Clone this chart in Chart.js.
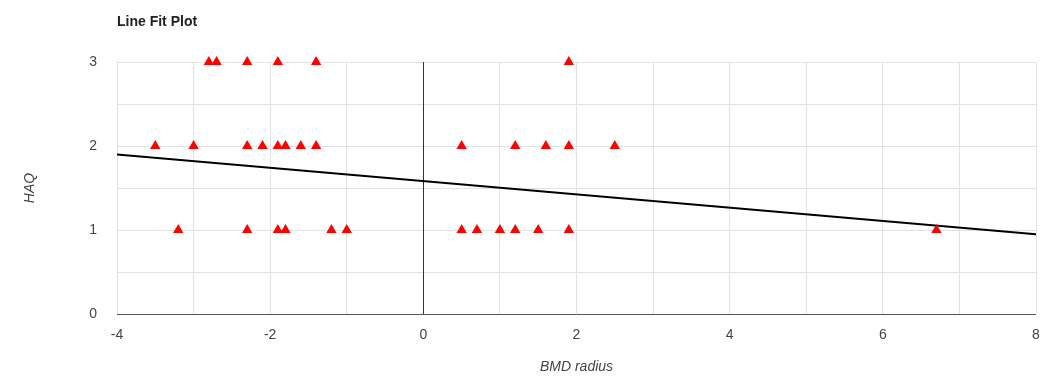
<!DOCTYPE html>
<html>
<head>
<meta charset="utf-8">
<script src="https://cdn.jsdelivr.net/npm/chart.js@4"></script>
<style>
  body { margin: 0; background: #fff; }
  #wrap { width: 1043px; height: 376px; }
</style>
</head>
<body>
<div id="wrap"><canvas id="myChart" width="1043" height="376"></canvas></div>
<script>
  // observed points (BMD radius, HAQ)
  const bmdX = [
    -2.8, -2.7, -2.3, -1.9, -1.4, 1.9,
    -3.5, -3.0, -2.3, -2.1, -1.9, -1.8, -1.6, -1.4, 0.5, 1.2, 1.6, 1.9, 2.5,
    -3.2, -2.3, -1.9, -1.8, -1.2, -1.0, 0.5, 0.7, 1.0, 1.2, 1.5, 1.9, 6.7
  ];
  const haqY = [
    3, 3, 3, 3, 3, 3,
    2, 2, 2, 2, 2, 2, 2, 2, 2, 2, 2, 2, 2,
    1, 1, 1, 1, 1, 1, 1, 1, 1, 1, 1, 1, 1
  ];

  // fitted line end points
  const fitX = [-4, 8];
  const fitY = [1.90, 0.95];

  const xTicks = [-4, -2, 0, 2, 4, 6, 8];
  const yTicks = [0, 1, 2, 3];

  const points = bmdX.map((x, i) => ({ x: x, y: haqY[i] }));
  const fitLine = fitX.map((x, i) => ({ x: x, y: fitY[i] }));

  const titlePlugin = {
    id: 'leftTitle',
    beforeDatasetsDraw(chart) {
      // dark zero line on top of the grid
      const ctx = chart.ctx;
      const x0 = Math.round(chart.scales.x.getPixelForValue(0)) + 0.5;
      ctx.save();
      ctx.strokeStyle = '#333';
      ctx.lineWidth = 1;
      ctx.beginPath();
      ctx.moveTo(x0, chart.chartArea.top);
      ctx.lineTo(x0, chart.chartArea.bottom);
      ctx.stroke();
      ctx.restore();
    },
    afterDraw(chart) {
      const ctx = chart.ctx;
      ctx.save();
      ctx.font = 'bold 14px Arial';
      ctx.fillStyle = '#222';
      ctx.textBaseline = 'middle';
      ctx.textAlign = 'left';
      ctx.fillText('Line Fit Plot', chart.chartArea.left, 22);
      ctx.restore();
    }
  };

  const data = {
    datasets: [
      {
        type: 'line',
        label: 'Fit',
        data: fitLine,
        borderColor: '#000',
        borderWidth: 2,
        pointRadius: 0,
        fill: false,
        order: 2
      },
      {
        type: 'scatter',
        label: 'HAQ',
        data: points,
        pointStyle: 'triangle',
        pointRadius: 6,
        backgroundColor: 'rgb(255, 0, 0)',
        borderColor: 'rgb(255, 0, 0)',
        borderWidth: 0,
        clip: false,
        order: 1
      }
    ]
  };

  const config = {
    type: 'scatter',
    data: data,
    options: {
      responsive: false,
      animation: false,
      layout: { padding: { top: 62, right: 7, left: 22, bottom: 0 } },
      plugins: {
        legend: { display: false },
        tooltip: { enabled: false }
      },
      scales: {
        x: {
          type: 'linear',
          min: -4,
          max: 8,
          border: { display: false },
          grid: {
            color: (c) => c.tick && c.tick.value === 0 ? '#333' : '#e2e2e2',
            lineWidth: 1,
            drawTicks: false
          },
          ticks: {
            stepSize: 1,
            padding: 13,
            color: '#444',
            font: { family: 'Arial', size: 14 },
            callback: (v) => xTicks.includes(v) ? v : ''
          },
          title: {
            display: true,
            text: 'BMD radius',
            color: '#444',
            font: { family: 'Arial', size: 14, style: 'italic' },
            padding: { top: 14, bottom: 0 }
          },
          afterFit: (s) => {
            s.height = 62;
            s.paddingLeft = 0;
            s.paddingRight = 0;
          }
        },
        y: {
          type: 'linear',
          min: 0,
          max: 3,
          border: { display: false },
          grid: {
            color: (c) => c.tick && c.tick.value === 0 ? '#555' : '#e2e2e2',
            lineWidth: 1,
            drawTicks: false
          },
          ticks: {
            stepSize: 0.5,
            padding: 20,
            color: '#444',
            font: { family: 'Arial', size: 14 },
            callback: (v) => yTicks.includes(v) ? v : ''
          },
          title: {
            display: true,
            text: 'HAQ',
            color: '#444',
            font: { family: 'Arial', size: 14, style: 'italic' },
            padding: { top: 0, bottom: 20 }
          },
          afterFit: (s) => {
            s.width = 95;
            s.paddingTop = 0;
            s.paddingBottom = 0;
          }
        }
      }
    },
    plugins: [titlePlugin]
  };

  const myChart = new Chart(
    document.getElementById('myChart'),
    config
  );
</script>
</body>
</html>
